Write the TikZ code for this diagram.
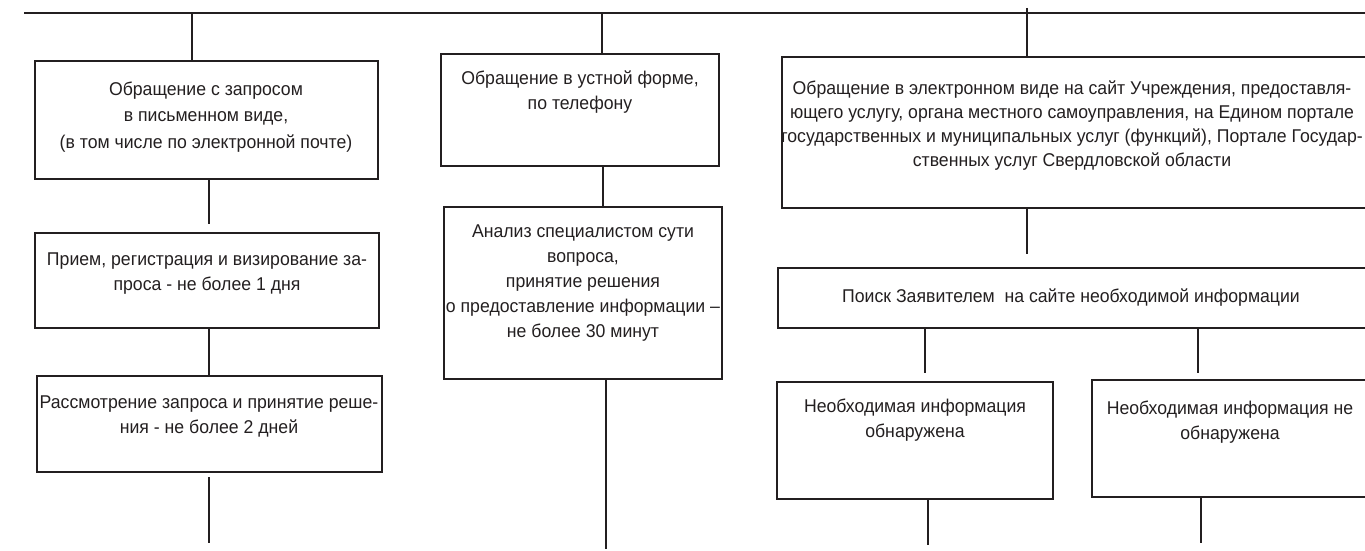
\documentclass[tikz,border=0pt]{standalone}
\usepackage{fontspec}
\setmainfont{Liberation Sans}[FakeStretch=0.955]
\definecolor{ink}{RGB}{35,31,32}
\begin{document}
\begin{tikzpicture}[x=1pt,y=-1pt,
  box/.style={draw=ink, line width=2pt, inner sep=0pt},
  txt/.style={align=center, font=\fontsize{18.5}{25}\selectfont, text=ink, inner sep=0pt},
  link/.style={draw=ink, line width=2pt}]
\useasboundingbox (0,0) rectangle (1365,551);
\clip (0,0) rectangle (1365,551);
% top line
\coordinate (tl) at (24,13);
\coordinate (tr) at (1370,13);
\draw[link] (tl) -- (tr);
% boxes
\node[box, minimum width=343pt, minimum height=118pt] (a1) at (206.5,120) {};
\node[box, minimum width=344pt, minimum height=95pt] (a2) at (207,280.5) {};
\node[box, minimum width=345pt, minimum height=96pt] (a3) at (209.5,424) {};
\node[box, minimum width=278pt, minimum height=112pt] (b1) at (580,110) {};
\node[box, minimum width=278pt, minimum height=172pt] (b2) at (583,293) {};
\node[box, minimum width=590pt, minimum height=151pt] (c1) at (1077,132.5) {};
\node[box, minimum width=592pt, minimum height=60pt] (c2) at (1074,298) {};
\node[box, minimum width=276pt, minimum height=117pt] (c3) at (915,440.5) {};
\node[box, minimum width=278pt, minimum height=117pt] (c4) at (1231,438.5) {};
% texts
\node[txt, font=\fontsize{18.5}{26.5}\selectfont] (a1t) at (206,117) {Обращение с запросом\\в письменном виде,\\(в том числе по электронной почте)};
\node[txt] (a2t) at (207,274) {Прием, регистрация и визирование за-\\проса - не более 1 дня};
\node[txt] (a3t) at (209,416) {Рассмотрение запроса и принятие реше-\\ния - не более 2 дней};
\node[txt] (b1t) at (580,92) {Обращение в устной форме,\\по телефону};
\node[txt] (b2t) at (583,283) {Анализ специалистом сути\\вопроса,\\принятие решения\\о предоставление информации –\\не более 30 минут};
\node[txt, font=\fontsize{18.5}{24}\selectfont] (c1t) at (1072,126) {Обращение в электронном виде на сайт Учреждения, предоставля-\\ющего услугу, органа местного самоуправления, на Едином портале\\государственных и муниципальных услуг (функций), Портале Государ-\\ственных услуг Свердловской области};
\node[txt] (c2t) at (1071,298) {Поиск Заявителем\ \ на сайте необходимой информации};
\node[txt] (c3t) at (915,420) {Необходимая информация\\обнаружена};
\node[txt] (c4t) at (1230,422) {Необходимая информация не\\обнаружена};
% free ends
\coordinate (ea) at (209,543);
\coordinate (eb) at (606,549);
\coordinate (ec3) at (928,545);
\coordinate (ec4) at (1201,543);
% connectors
\draw[link] (tl -| 192,0) -- (a1.north -| 192,0);
\draw[link] (a1.south -| 209,0) -- ([yshift=8pt]a2.north -| 209,0);
\draw[link] (a2.south -| 209,0) -- (a3.north -| 209,0);
\draw[link] ([yshift=-4pt]a3.south -| 209,0) -- (ea);
\draw[link] (tl -| 602,0) -- (b1.north -| 602,0);
\draw[link] (b1.south -| 603,0) -- (b2.north -| 603,0);
\draw[link] (b2.south -| 606,0) -- (eb);
\draw[link] ([yshift=5pt]tl -| 1027,0) -- (c1.north -| 1027,0);
\draw[link] (c1.south -| 1027,0) -- ([yshift=13pt]c2.north -| 1027,0);
\draw[link] (c2.south -| 925,0) -- ([yshift=8pt]c3.north -| 925,0);
\draw[link] (c2.south -| 1198,0) -- ([yshift=6pt]c4.north -| 1198,0);
\draw[link] (c3.south -| 928,0) -- (ec3);
\draw[link] (c4.south -| 1201,0) -- (ec4);
\end{tikzpicture}
\end{document}
